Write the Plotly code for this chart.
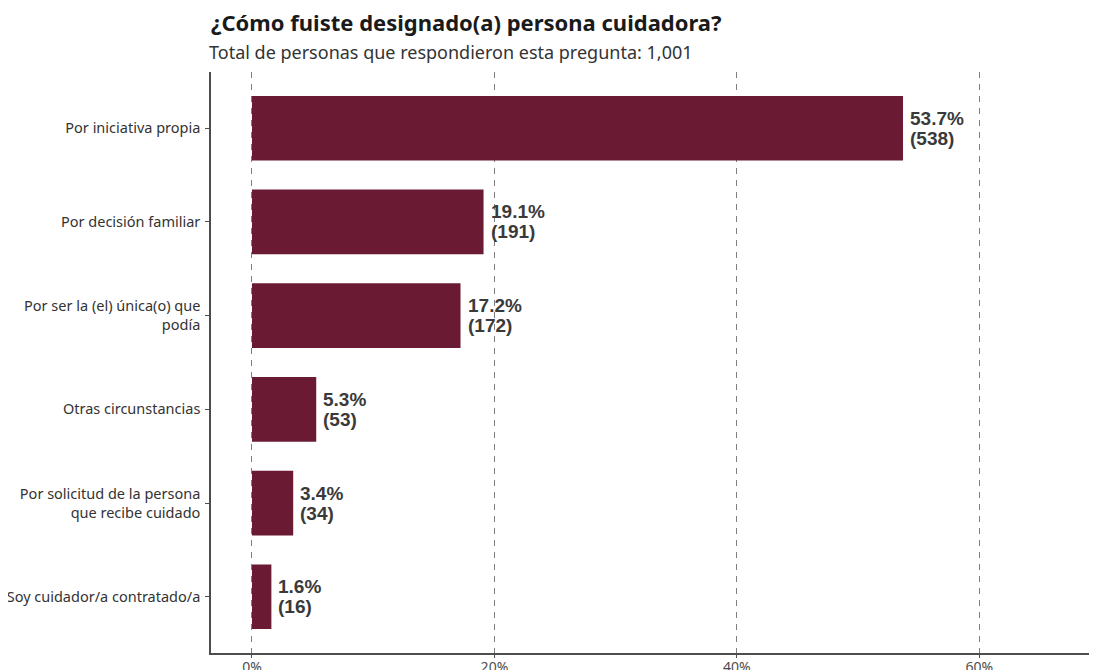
import plotly.graph_objects as go

categories = [
    "Por iniciativa propia",
    "Por decisión familiar",
    "Por ser la (el) única(o) que<br>podía",
    "Otras circunstancias",
    "Por solicitud de la persona<br>que recibe cuidado",
    "Soy cuidador/a contratado/a",
]
shares = [0.537, 0.191, 0.172, 0.053, 0.034, 0.016]
counts = [538, 191, 172, 53, 34, 16]

BAR = "#6A1B33"
INK = "#333333"

# the page body has an 8px margin, so the figure is sized to end at the window edge
W, H = 1089, 662

fig = go.Figure(
    go.Bar(
        x=shares,
        y=categories,
        orientation="h",
        width=0.69,
        marker=dict(color=BAR, line_width=0),
        hoverinfo="skip",
    )
)

label_font = dict(family="Liberation Sans", size=19, color="#3a3a3a", weight="bold")
for s, n, c in zip(shares, counts, categories):
    for txt, dy in ((f"{s * 100:.1f}%", 10), (f"({n})", -10)):
        fig.add_annotation(
            x=s,
            y=c,
            text=txt,
            showarrow=False,
            xanchor="left",
            yanchor="middle",
            xshift=5,
            yshift=dy,
            font=label_font,
        )

fig.add_annotation(
    xref="paper",
    yref="paper",
    x=0,
    y=1 + 20 / 581,
    xanchor="left",
    yanchor="middle",
    xshift=-4,
    text="Total de personas que respondieron esta pregunta: 1,001",
    showarrow=False,
    font=dict(family="Noto Sans", size=18, color=INK),
)

fig.update_layout(
    width=W,
    height=H,
    margin=dict(l=203, r=0, t=64, b=17),
    plot_bgcolor="white",
    paper_bgcolor="white",
    showlegend=False,
    title=dict(
        text="<b>¿Cómo fuiste designado(a) persona cuidadora?</b>",
        x=203 / W,
        xanchor="left",
        y=1 - 15 / H,
        yanchor="middle",
        font=dict(family="Noto Sans", size=22, color="#1a1a1a"),
    ),
    xaxis=dict(
        automargin=False,
        range=[-0.0338, 0.697],
        tickvals=[0, 0.2, 0.4, 0.6],
        tickformat=".0%",
        showgrid=True,
        gridcolor="#7f7f7f",
        gridwidth=1.2,
        griddash="6px,6px",
        zeroline=False,
        showline=True,
        linecolor="#4d4d4d",
        linewidth=1.5,
        ticks="outside",
        ticklen=3,
        tickcolor="#4d4d4d",
        ticklabelstandoff=-3,
        tickfont=dict(family="Noto Sans", size=14, color="#4d4d4d"),
    ),
    yaxis=dict(
        automargin=False,
        categoryorder="array",
        categoryarray=categories,
        range=[5.6, -0.6],
        showgrid=False,
        zeroline=False,
        showline=True,
        linecolor="#4d4d4d",
        linewidth=1.5,
        ticks="outside",
        ticklen=4,
        tickcolor="#4d4d4d",
        ticklabelstandoff=2,
        tickfont=dict(family="Noto Sans", size=14.5, color=INK),
    ),
)

fig.write_html("out.html")
